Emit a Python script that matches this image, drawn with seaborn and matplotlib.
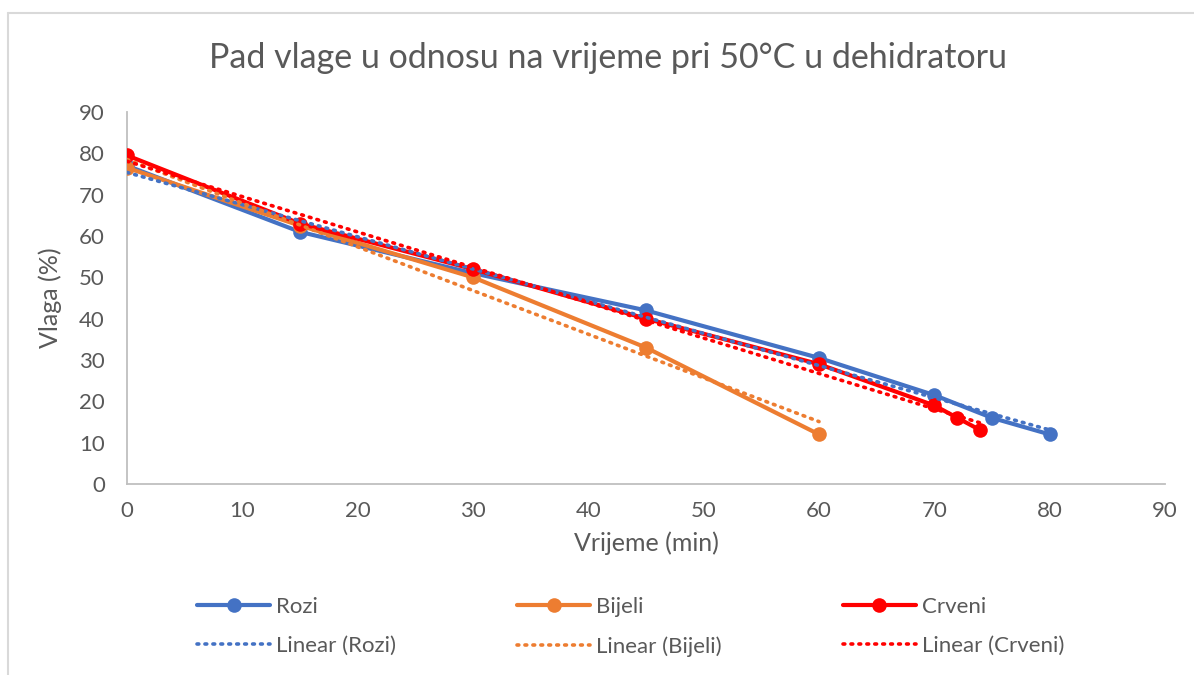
import numpy as np
import pandas as pd
import matplotlib
matplotlib.use("Agg")
import matplotlib.pyplot as plt
from matplotlib.lines import Line2D
import seaborn as sns

# Data
rozi_x = [0, 15, 30, 45, 60, 70, 75, 80]
rozi_y = [77, 61, 51, 42, 30.5, 21.5, 16, 12]
bijeli_x = [0, 15, 30, 45, 60]
bijeli_y = [76.5, 62.5, 50, 33, 12]
crveni_x = [0, 15, 30, 45, 60, 70, 72, 74]
crveni_y = [79.5, 63, 52, 40, 29, 19, 16, 13]

series_names = ["Rozi", "Bijeli", "Crveni"]
colors = ["#4472C4", "#ED7D31", "#FF0000"]
x_ticks = list(range(0, 91, 10))
y_ticks = list(range(0, 91, 10))

sns.set_theme(style="white")
plt.rcParams['font.family'] = ['Lato', 'DejaVu Sans']
txt = "#595959"

fig = plt.figure(figsize=(11.94, 6.75), dpi=100)
ax = fig.add_axes([127/1194, 1-484/675, (1165-127)/1194, (484-112)/675])

dot = (0, (0.5, 1.7))
data = [(rozi_x, rozi_y), (bijeli_x, bijeli_y), (crveni_x, crveni_y)]
handles_line, handles_trend = [], []
for (xs, ys), name, c in zip(data, series_names, colors):
    df = pd.DataFrame({"x": xs, "y": ys})
    sns.lineplot(data=df, x="x", y="y", ax=ax, color=c, lw=3, marker="o",
                 markersize=10.5, markeredgewidth=0, zorder=3)
    k, b = np.polyfit(xs, ys, 1)
    tx = np.array([min(xs), max(xs)])
    tdf = pd.DataFrame({"x": tx, "y": k*tx + b})
    sns.lineplot(data=tdf, x="x", y="y", ax=ax, color=c, lw=2.6,
                 linestyle=dot, dash_capstyle="round", zorder=4)
    handles_line.append(Line2D([], [], color=c, lw=3, marker="o", markersize=10.5,
                               markeredgewidth=0, label=name))
    handles_trend.append(Line2D([], [], color=c, lw=2.6, linestyle=dot,
                                dash_capstyle="round", label=f"Linear ({name})"))

ax.set_xlim(0, 90)
ax.set_ylim(0, 90)
ax.set_xticks(x_ticks)
ax.set_yticks(y_ticks)
ax.tick_params(axis="x", labelsize=16, colors=txt, length=0, pad=12)
ax.tick_params(axis="y", labelsize=16, colors=txt, length=0, pad=16)
for s in ["top", "right"]:
    ax.spines[s].set_visible(False)
for s in ["left", "bottom"]:
    ax.spines[s].set_color("#BFBFBF")
    ax.spines[s].set_linewidth(1.3)
ax.grid(False)
ax.set_xlabel("Vrijeme (min)", fontsize=18, color=txt, labelpad=8)
ax.set_ylabel("Vlaga (%)", fontsize=18, color=txt, labelpad=12)
fig.text(608/1194, 1-58/675, "Pad vlage u odnosu na vrijeme pri 50°C u dehidratoru",
         ha="center", va="center", fontsize=24.5, color=txt)

handles = []
for hl, ht in zip(handles_line, handles_trend):
    handles += [hl, ht]
leg = fig.legend(handles=handles, ncol=3, loc="center left",
                 bbox_to_anchor=(177/1194, 1-627/675), frameon=False,
                 fontsize=16, handlelength=3.3, handletextpad=0.25,
                 columnspacing=5.45, labelspacing=0.85)
for t in leg.get_texts():
    t.set_color(txt)

# chart frame
fig.add_artist(Line2D([8/1194, 8/1194], [0, 1-13/675], color="#D9D9D9", lw=1.5,
                      transform=fig.transFigure))
fig.add_artist(Line2D([8/1194, 1], [1-13/675, 1-13/675], color="#D9D9D9", lw=1.5,
                      transform=fig.transFigure))

fig.savefig("out.png", dpi=100, facecolor="white")
